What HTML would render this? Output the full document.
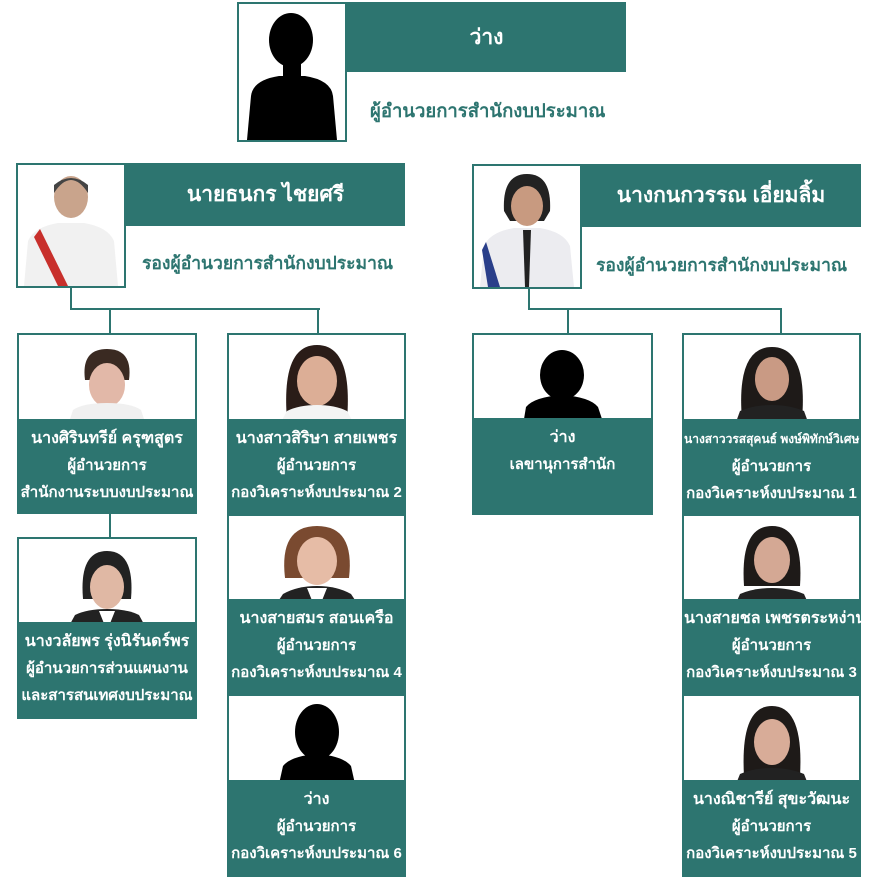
<!DOCTYPE html>
<html><head><meta charset="utf-8"><style>
*{margin:0;padding:0;box-sizing:border-box}
body{width:880px;height:880px;background:#fff;position:relative;overflow:hidden;font-family:"Liberation Sans","Noto Sans CJK SC",sans-serif}
.ln{position:absolute;background:#2d7570}
.ph{position:absolute;border:2px solid #2d7570;background:#fff;overflow:hidden}
.bar{position:absolute;background:#2d7570;color:#fff;font-weight:bold;font-size:21px;display:flex;align-items:center;justify-content:center;white-space:nowrap}
.sub{position:absolute;color:#2d7570;font-size:17.5px;font-weight:bold;white-space:nowrap}
.box{position:absolute;border:2px solid #2d7570;background:#fff}
.box .p{position:absolute;left:0;right:0;top:0;overflow:hidden}
.box .t{position:absolute;left:-4px;right:-4px;bottom:0;background:#2d7570;color:#fff;font-weight:bold;font-size:15px;text-align:center;line-height:27px;padding-top:6px;white-space:nowrap}
.box .t{left:0;right:0;overflow:visible}
.box .t b{font-size:16px}
svg{display:block;margin:0 auto}
</style></head><body>
<div class="ph" style="left:237px;top:2px;width:110px;height:140px">
<svg width="106" height="136"><ellipse cx="52" cy="36" rx="22" ry="27" fill="#000"/><rect x="44" y="55" width="18" height="20" fill="#000"/><path d="M8 136 L12 92 Q14 76 40 72 L66 72 Q92 76 94 92 L98 136Z" fill="#000"/></svg></div>
<div class="bar" style="left:347px;top:2px;width:279px;height:70px">ว่าง</div>
<div class="sub" style="left:370px;top:97px;font-size:18.5px">ผู้อำนวยการสำนักงบประมาณ</div>

<div class="ph" style="left:16px;top:163px;width:110px;height:125px">
<svg width="106" height="121"><ellipse cx="53" cy="32" rx="17" ry="21" fill="#c9a48c"/><path d="M36 28 Q53 2 70 28 L70 20 Q53 6 36 20Z" fill="#444"/><path d="M6 121 L10 76 Q16 62 40 58 L66 58 Q90 62 96 76 L100 121Z" fill="#f1f1f1"/><path d="M22 64 L50 121 L40 121 L16 72Z" fill="#c8302c"/></svg></div>
<div class="bar" style="left:126px;top:163px;width:279px;height:63px">นายธนกร ไชยศรี</div>
<div class="sub" style="left:142px;top:249px">รองผู้อำนวยการสำนักงบประมาณ</div>

<div class="ph" style="left:472px;top:164px;width:110px;height:125px">
<svg width="106" height="121"><path d="M30 45 Q28 8 53 8 Q78 8 76 45 L70 55 L36 55Z" fill="#222"/><ellipse cx="53" cy="40" rx="16" ry="20" fill="#c89a80"/><path d="M6 121 L10 80 Q16 66 40 62 L66 62 Q90 66 96 80 L100 121Z" fill="#ececf0"/><path d="M12 76 L26 121 L14 121 L8 84Z" fill="#2a3f8a"/><path d="M49 64 L57 64 L55 121 L51 121Z" fill="#222"/></svg></div>
<div class="bar" style="left:581px;top:164px;width:280px;height:63px">นางกนกวรรณ เอี่ยมลิ้ม</div>
<div class="sub" style="left:596px;top:251px">รองผู้อำนวยการสำนักงบประมาณ</div>

<div class="ln" style="left:70px;top:288px;width:2px;height:22px"></div>
<div class="ln" style="left:70px;top:308px;width:250px;height:2px"></div>
<div class="ln" style="left:109px;top:308px;width:2px;height:26px"></div>
<div class="ln" style="left:317px;top:308px;width:2px;height:26px"></div>
<div class="ln" style="left:109px;top:513px;width:2px;height:25px"></div>
<div class="ln" style="left:528px;top:289px;width:2px;height:21px"></div>
<div class="ln" style="left:528px;top:308px;width:254px;height:2px"></div>
<div class="ln" style="left:567px;top:308px;width:2px;height:26px"></div>
<div class="ln" style="left:780px;top:308px;width:2px;height:26px"></div>

<div class="box" style="left:17px;top:333px;width:180px;height:181px"><div class="p" style="height:87px"><svg width="176" height="87"><path d="M66 45 Q62 14 88 14 Q114 14 110 45Z" fill="#3a2a22"/><ellipse cx="88" cy="50" rx="18" ry="22" fill="#e2b8a8"/><path d="M50 87 L54 75 Q64 68 88 68 Q112 68 122 75 L126 87Z" fill="#f0f0f0"/></svg></div><div class="t" style="height:93px"><b>นางศิรินทรีย์ ครุฑสูตร</b><br>ผู้อำนวยการ<br>สำนักงานระบบงบประมาณ</div></div>
<div class="box" style="left:17px;top:537px;width:180px;height:182px"><div class="p" style="height:87px"><svg width="176" height="87"><path d="M64 60 Q60 12 88 12 Q116 12 112 60Z" fill="#222"/><ellipse cx="88" cy="48" rx="17" ry="22" fill="#e0b8a4"/><path d="M50 87 L56 76 Q68 70 88 70 Q108 70 120 76 L126 87Z" fill="#222"/><path d="M80 72 L96 72 L90 87 L86 87Z" fill="#fff"/></svg></div><div class="t" style="height:95px"><b>นางวลัยพร รุ่งนิรันดร์พร</b><br>ผู้อำนวยการส่วนแผนงาน<br>และสารสนเทศงบประมาณ</div></div>

<div class="box" style="left:227px;top:333px;width:179px;height:183px"><div class="p" style="height:87px"><svg width="175" height="87"><path d="M58 85 Q52 10 88 10 Q124 10 118 85Z" fill="#2a1c18"/><ellipse cx="88" cy="46" rx="20" ry="25" fill="#dcae96"/><path d="M52 87 L58 76 Q70 70 88 70 Q106 70 118 76 L124 87Z" fill="#f4f4f4"/></svg></div><div class="t" style="height:95px"><b>นางสาวสิริษา สายเพชร</b><br>ผู้อำนวยการ<br>กองวิเคราะห์งบประมาณ 2</div></div>
<div class="box" style="left:227px;top:514px;width:179px;height:182px"><div class="p" style="height:87px"><svg width="175" height="87"><path d="M56 62 Q50 10 88 10 Q126 10 120 62Z" fill="#7a4a30"/><ellipse cx="88" cy="45" rx="20" ry="24" fill="#e6bca6"/><path d="M48 87 L54 78 Q68 70 88 70 Q108 70 122 78 L128 87Z" fill="#222"/><path d="M78 72 L98 72 L92 87 L84 87Z" fill="#fff"/></svg></div><div class="t" style="height:95px"><b>นางสายสมร สอนเครือ</b><br>ผู้อำนวยการ<br>กองวิเคราะห์งบประมาณ 4</div></div>
<div class="box" style="left:227px;top:694px;width:179px;height:183px"><div class="p" style="height:88px"><svg width="175" height="88"><ellipse cx="88" cy="36" rx="22" ry="28" fill="#000"/><path d="M50 88 L54 70 Q62 60 88 58 Q114 60 122 70 L126 88Z" fill="#000"/></svg></div><div class="t" style="height:95px"><b>ว่าง</b><br>ผู้อำนวยการ<br>กองวิเคราะห์งบประมาณ 6</div></div>

<div class="box" style="left:472px;top:333px;width:181px;height:182px"><div class="p" style="height:87px"><svg width="177" height="87"><ellipse cx="88" cy="40" rx="22" ry="25" fill="#000"/><path d="M50 84 L52 72 Q60 62 88 60 Q116 62 124 72 L128 84Z" fill="#000"/></svg></div><div class="t" style="height:95px"><b>ว่าง</b><br>เลขานุการสำนัก<br>&nbsp;</div></div>
<div class="box" style="left:682px;top:333px;width:179px;height:183px"><div class="p" style="height:87px"><svg width="175" height="87"><path d="M58 85 Q52 12 88 12 Q124 12 118 85Z" fill="#1e1a18"/><ellipse cx="88" cy="44" rx="17" ry="22" fill="#c99a84"/><path d="M52 87 L56 76 Q70 70 88 70 Q106 70 120 76 L124 87Z" fill="#222"/></svg></div><div class="t" style="height:95px"><span style="font-size:12px">นางสาววรสสุคนธ์ พงษ์พิทักษ์วิเศษ</span><br>ผู้อำนวยการ<br>กองวิเคราะห์งบประมาณ 1</div></div>
<div class="box" style="left:682px;top:514px;width:179px;height:182px"><div class="p" style="height:87px"><svg width="175" height="87"><path d="M60 70 Q56 10 88 10 Q120 10 116 70Z" fill="#1e1a18"/><ellipse cx="88" cy="44" rx="18" ry="23" fill="#d4a894"/><path d="M52 87 L56 78 Q70 72 88 72 Q106 72 120 78 L124 87Z" fill="#222"/></svg></div><div class="t" style="height:95px"><b>นางสายชล เพชรตระหง่าน</b><br>ผู้อำนวยการ<br>กองวิเคราะห์งบประมาณ 3</div></div>
<div class="box" style="left:682px;top:694px;width:179px;height:183px"><div class="p" style="height:88px"><svg width="175" height="88"><path d="M60 80 Q56 10 88 10 Q120 10 116 80Z" fill="#1e1a18"/><ellipse cx="88" cy="46" rx="18" ry="23" fill="#d8ac98"/><path d="M52 88 L56 78 Q70 72 88 72 Q106 72 120 78 L124 88Z" fill="#222"/></svg></div><div class="t" style="height:95px"><b>นางณิชารีย์ สุขะวัฒนะ</b><br>ผู้อำนวยการ<br>กองวิเคราะห์งบประมาณ 5</div></div>
</body></html>
